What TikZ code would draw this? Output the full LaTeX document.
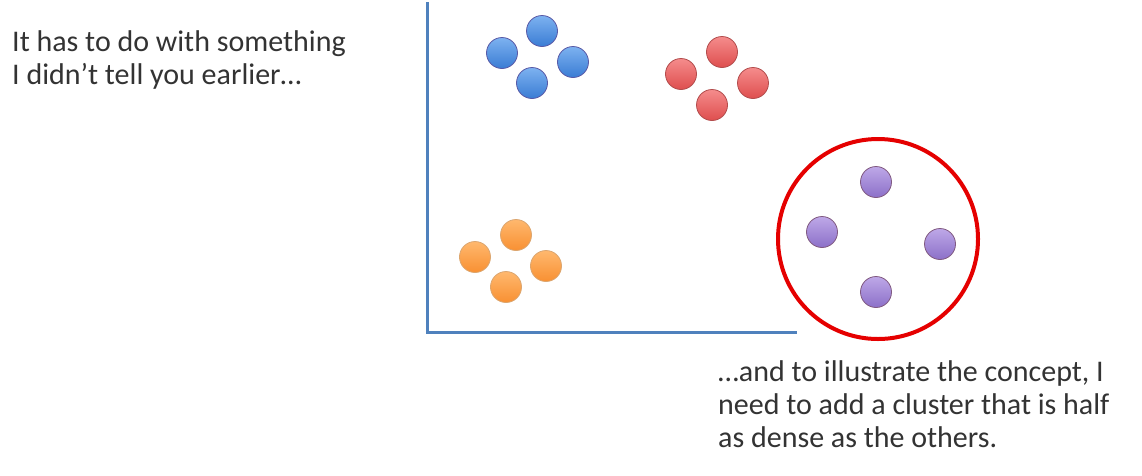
\documentclass[tikz,border=0pt]{standalone}
\usepackage{fontspec}
\setmainfont{Carlito}
\begin{document}
\begin{tikzpicture}[x=1pt,y=-1pt,
  dot/.style={circle,minimum size=31pt,inner sep=0pt,line width=0.8pt},
  bdot/.style={dot,draw=blue!30!gray,top color=bluetop,bottom color=bluebot},
  rdot/.style={dot,draw=red!40!gray,top color=redtop,bottom color=redbot},
  odot/.style={dot,draw=orange!60!gray!70,top color=orgtop,bottom color=orgbot},
  pdot/.style={dot,draw=violet!30!gray,top color=purtop,bottom color=purbot},
  txt/.style={anchor=north west,align=left,inner sep=0pt,text=black!80,font=\fontsize{30}{33}\selectfont},
  axis/.style={draw=axisblue,line width=3pt}]
\definecolor{axisblue}{RGB}{79,129,189}
\definecolor{bluetop}{RGB}{125,178,240}
\definecolor{bluebot}{RGB}{58,124,212}
\definecolor{redtop}{RGB}{245,140,140}
\definecolor{redbot}{RGB}{222,78,78}
\definecolor{orgtop}{RGB}{255,184,110}
\definecolor{orgbot}{RGB}{248,144,50}
\definecolor{purtop}{RGB}{190,168,232}
\definecolor{purbot}{RGB}{140,112,200}
\useasboundingbox (0,0) rectangle (1142,475);
\fill[white] (0,0) rectangle (1142,475);
% axes
\coordinate (ytop) at (427,2);
\coordinate (orig) at (427,332);
\coordinate (xend) at (797,332);
\draw[axis] (ytop) -- (orig) -- (xend);
% blue
\node[bdot] (b1) at (542,31) {};
\node[bdot] (b2) at (502,53) {};
\node[bdot] (b3) at (573,62) {};
\node[bdot] (b4) at (532,83) {};
% red
\node[rdot] (r1) at (722,52) {};
\node[rdot] (r2) at (681,74) {};
\node[rdot] (r3) at (753,83) {};
\node[rdot] (r4) at (712,105) {};
% orange
\node[odot] (o1) at (516,235) {};
\node[odot] (o2) at (475,257) {};
\node[odot] (o3) at (546,266) {};
\node[odot] (o4) at (506,287) {};
% purple
\node[pdot] (p1) at (876,182) {};
\node[pdot] (p2) at (822,232) {};
\node[pdot] (p3) at (940,244) {};
\node[pdot] (p4) at (876,292) {};
% red ring
\node[circle,draw=red!90!black,line width=4pt,minimum size=200pt,inner sep=0pt] (ring) at (878,239) {};
% texts
\node[txt] (t1) at (12,30) {It has to do with something\\I didn’t tell you earlier…};
\node[txt] (t2) at (718,360) {…and to illustrate the concept, I\\need to add a cluster that is half\\as dense as the others.};
\end{tikzpicture}
\end{document}
